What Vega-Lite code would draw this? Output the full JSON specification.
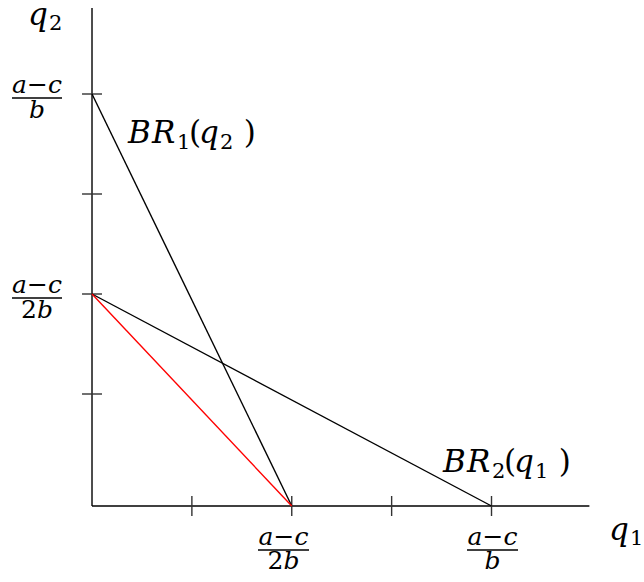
{
  "$schema": "https://vega.github.io/schema/vega-lite/v6.json",
  "width": 644,
  "height": 582,
  "autosize": {"type": "none"},
  "padding": 0,
  "background": "white",
  "config": {"view": {"stroke": null}},
  "datasets": {
    "responses": [
      {"series": "BR1", "q1": 0, "q2": 1},
      {"series": "BR1", "q1": 0.5, "q2": -0.03},
      {"series": "BR2", "q1": 0, "q2": 0.5},
      {"series": "BR2", "q1": 1, "q2": -0.03},
      {"series": "Monopoly", "q1": 0, "q2": 0.5},
      {"series": "Monopoly", "q1": 0.5, "q2": -0.03}
    ],
    "axes": [
      {"q1": 0, "q2": -0.03, "q1end": 1.245, "q2end": -0.03},
      {"q1": 0, "q2": -0.03, "q1end": 0, "q2end": 1.215}
    ],
    "ticks": [
      {"q1": 0.25, "q2": -0.055, "q1end": 0.25, "q2end": -0.005},
      {"q1": 0.5, "q2": -0.055, "q1end": 0.5, "q2end": -0.005},
      {"q1": 0.75, "q2": -0.055, "q1end": 0.75, "q2end": -0.005},
      {"q1": 1, "q2": -0.055, "q1end": 1, "q2end": -0.005},
      {"q1": -0.025, "q2": 0.25, "q1end": 0.025, "q2end": 0.25},
      {"q1": -0.025, "q2": 0.5, "q1end": 0.025, "q2end": 0.5},
      {"q1": -0.025, "q2": 0.75, "q1end": 0.025, "q2end": 0.75},
      {"q1": -0.025, "q2": 1, "q1end": 0.025, "q2end": 1}
    ],
    "fractionBars": [
      {"q1": -0.2003, "q1end": -0.0751, "q2": 0.99},
      {"q1": -0.2003, "q1end": -0.0751, "q2": 0.49},
      {"q1": 0.4155, "q1end": 0.5432, "q2": -0.14},
      {"q1": 0.9387, "q1end": 1.0663, "q2": -0.14}
    ],
    "numerators": [
      {"text": "a−c", "q1": -0.1377, "q2": 1.0025},
      {"text": "a−c", "q1": -0.1377, "q2": 0.5025},
      {"text": "a−c", "q1": 0.4793, "q2": -0.1275},
      {"text": "a−c", "q1": 1.0025, "q2": -0.1275}
    ],
    "denominatorsB": [
      {"text": "b", "q1": -0.1377, "q2": 0.94},
      {"text": "b", "q1": 1.0025, "q2": -0.1875}
    ],
    "denominatorsTwo": [
      {"text": "2", "q1": -0.1377, "q2": 0.44},
      {"text": "2", "q1": 0.4793, "q2": -0.1875}
    ],
    "denominatorsTwoB": [
      {"text": "b", "q1": -0.1377, "q2": 0.44},
      {"text": "b", "q1": 0.4793, "q2": -0.1875}
    ],
    "italicText": [
      {"text": "q", "q1": -0.1602, "q2": 1.1725},
      {"text": "q", "q1": 1.2941, "q2": -0.115},
      {"text": "B", "q1": 0.0901, "q2": 0.8775},
      {"text": "R", "q1": 0.1502, "q2": 0.8775},
      {"text": "q", "q1": 0.2678, "q2": 0.8775},
      {"text": "B", "q1": 0.8786, "q2": 0.055},
      {"text": "R", "q1": 0.9387, "q2": 0.055},
      {"text": "q", "q1": 1.0563, "q2": 0.055}
    ],
    "uprightText": [
      {"text": "(", "q1": 0.2428, "q2": 0.8775},
      {"text": ")", "q1": 0.38, "q2": 0.8775},
      {"text": "(", "q1": 1.0313, "q2": 0.055},
      {"text": ")", "q1": 1.1685, "q2": 0.055}
    ],
    "subscripts": [
      {"text": "2", "q1": -0.1076, "q2": 1.16},
      {"text": "1", "q1": 1.3467, "q2": -0.1275},
      {"text": "1", "q1": 0.2128, "q2": 0.8625},
      {"text": "2", "q1": 0.3204, "q2": 0.8625},
      {"text": "2", "q1": 1.0013, "q2": 0.04},
      {"text": "1", "q1": 1.1089, "q2": 0.04}
    ]
  },
  "encoding": {
    "x": {"field": "q1", "type": "quantitative", "axis": null, "scale": {"domain": [-0.2303, 1.3817], "nice": false, "zero": false}},
    "y": {"field": "q2", "type": "quantitative", "axis": null, "scale": {"domain": [-0.22, 1.235], "nice": false, "zero": false}}
  },
  "layer": [
    {
      "data": {"name": "axes"},
      "mark": {"type": "rule", "color": "black", "strokeWidth": 1.4},
      "encoding": {"x2": {"field": "q1end"}, "y2": {"field": "q2end"}}
    },
    {
      "data": {"name": "ticks"},
      "mark": {"type": "rule", "color": "#333333", "strokeWidth": 1.4},
      "encoding": {"x2": {"field": "q1end"}, "y2": {"field": "q2end"}}
    },
    {
      "data": {"name": "responses"},
      "mark": {"type": "line", "strokeWidth": 1.4},
      "encoding": {
        "color": {"field": "series", "type": "nominal", "legend": null, "scale": {"domain": ["BR1", "BR2", "Monopoly"], "range": ["black", "black", "#ff0000"]}},
        "order": {"field": "q1", "type": "quantitative"}
      }
    },
    {
      "data": {"name": "fractionBars"},
      "mark": {"type": "rule", "color": "black", "strokeWidth": 1.3},
      "encoding": {"x2": {"field": "q1end"}}
    },
    {
      "data": {"name": "numerators"},
      "mark": {"type": "text", "font": "DejaVu Serif", "fontStyle": "italic", "fontSize": 25, "align": "center", "baseline": "alphabetic", "color": "black"},
      "encoding": {"text": {"field": "text"}}
    },
    {
      "data": {"name": "denominatorsB"},
      "mark": {"type": "text", "font": "DejaVu Serif", "fontStyle": "italic", "fontSize": 25, "align": "center", "baseline": "alphabetic", "color": "black"},
      "encoding": {"text": {"field": "text"}}
    },
    {
      "data": {"name": "denominatorsTwo"},
      "mark": {"type": "text", "font": "DejaVu Serif", "fontSize": 25, "align": "right", "baseline": "alphabetic", "color": "black"},
      "encoding": {"text": {"field": "text"}}
    },
    {
      "data": {"name": "denominatorsTwoB"},
      "mark": {"type": "text", "font": "DejaVu Serif", "fontStyle": "italic", "fontSize": 25, "align": "left", "baseline": "alphabetic", "color": "black"},
      "encoding": {"text": {"field": "text"}}
    },
    {
      "data": {"name": "italicText"},
      "mark": {"type": "text", "font": "DejaVu Serif", "fontStyle": "italic", "fontSize": 31, "align": "left", "baseline": "alphabetic", "color": "black"},
      "encoding": {"text": {"field": "text"}}
    },
    {
      "data": {"name": "uprightText"},
      "mark": {"type": "text", "font": "DejaVu Serif", "fontSize": 31, "align": "left", "baseline": "alphabetic", "color": "black"},
      "encoding": {"text": {"field": "text"}}
    },
    {
      "data": {"name": "subscripts"},
      "mark": {"type": "text", "font": "DejaVu Serif", "fontSize": 21, "align": "left", "baseline": "alphabetic", "color": "black"},
      "encoding": {"text": {"field": "text"}}
    }
  ]
}
